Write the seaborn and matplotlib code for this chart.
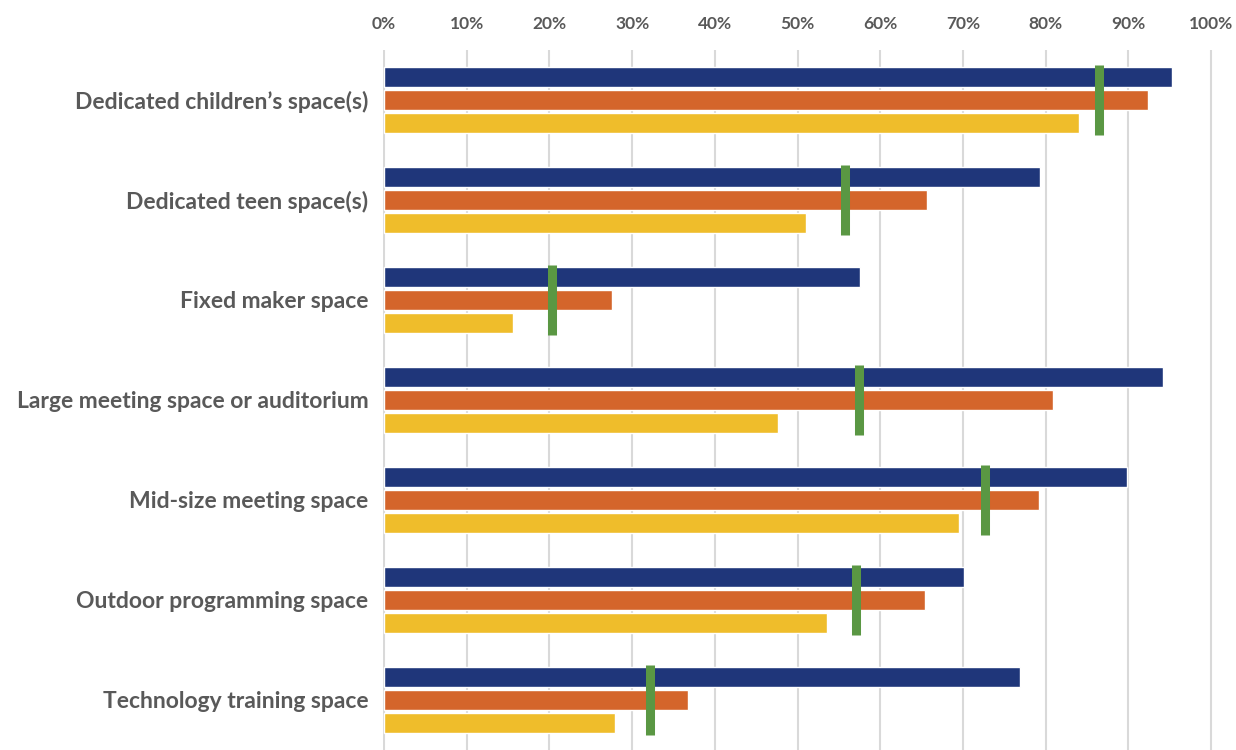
import numpy as np
import pandas as pd
import matplotlib
matplotlib.use("Agg")
import matplotlib.pyplot as plt
import seaborn as sns

sns.set_theme(style="white")
plt.rcParams["font.family"] = ["Lato", "DejaVu Sans"]

# data (percent of libraries)
categories = [
    "Dedicated children\u2019s space(s)",
    "Dedicated teen space(s)",
    "Fixed maker space",
    "Large meeting space or auditorium",
    "Mid-size meeting space",
    "Outdoor programming space",
    "Technology training space",
]
series_names = ["Group 1", "Group 2", "Group 3"]
group1 = [95.3, 79.3, 57.5, 94.2, 89.9, 70.1, 76.9]
group2 = [92.4, 65.7, 27.6, 80.9, 79.2, 65.4, 36.7]
group3 = [84.0, 51.0, 15.6, 47.6, 69.5, 53.6, 27.9]
overall = [86.5, 55.7, 20.3, 57.4, 72.7, 57.1, 32.2]
x_ticks = [0, 10, 20, 30, 40, 50, 60, 70, 80, 90, 100]

colors = ["#1F367A", "#D4652B", "#EFBD2B"]
marker_color = "#5A9743"
text_color = "#595959"

df = pd.DataFrame({"category": categories, series_names[0]: group1,
                   series_names[1]: group2, series_names[2]: group3})
long_df = df.melt(id_vars="category", var_name="series", value_name="value")

fig = plt.figure(figsize=(12.36, 7.5), dpi=100)
ax = fig.add_axes([383 / 1236, 0, 830 / 1236, 700 / 750])

sns.barplot(data=long_df, x="value", y="category", hue="series",
            palette=colors, orient="h", width=0.69, gap=0.17,
            saturation=1, legend=False, ax=ax, zorder=2)

# green marker for the overall value
ypos = np.arange(len(categories))
ax.vlines(overall, ypos - 0.35, ypos + 0.35, color=marker_color,
          linewidth=6.5, zorder=4)

ax.set_xlim(-0.12, 100.24)
ax.set_ylim(len(categories) - 0.5, -0.5)
ax.set_xticks(x_ticks)
ax.set_xticklabels([f"{t}%" for t in x_ticks])
ax.xaxis.tick_top()
ax.grid(axis="x", color="#D9D9D9", linewidth=1.5, zorder=0)
ax.set_axisbelow(True)
for s in ax.spines.values():
    s.set_visible(False)
ax.tick_params(axis="x", length=0, pad=13, labelsize=12.5,
               labelcolor=text_color)
ax.tick_params(axis="y", length=0, pad=10.5, labelsize=16.5,
               labelcolor=text_color)
for lab in ax.get_xticklabels() + ax.get_yticklabels():
    lab.set_fontweight("bold")
ax.set_xlabel("")
ax.set_ylabel("")

fig.savefig("out.png", dpi=100)
